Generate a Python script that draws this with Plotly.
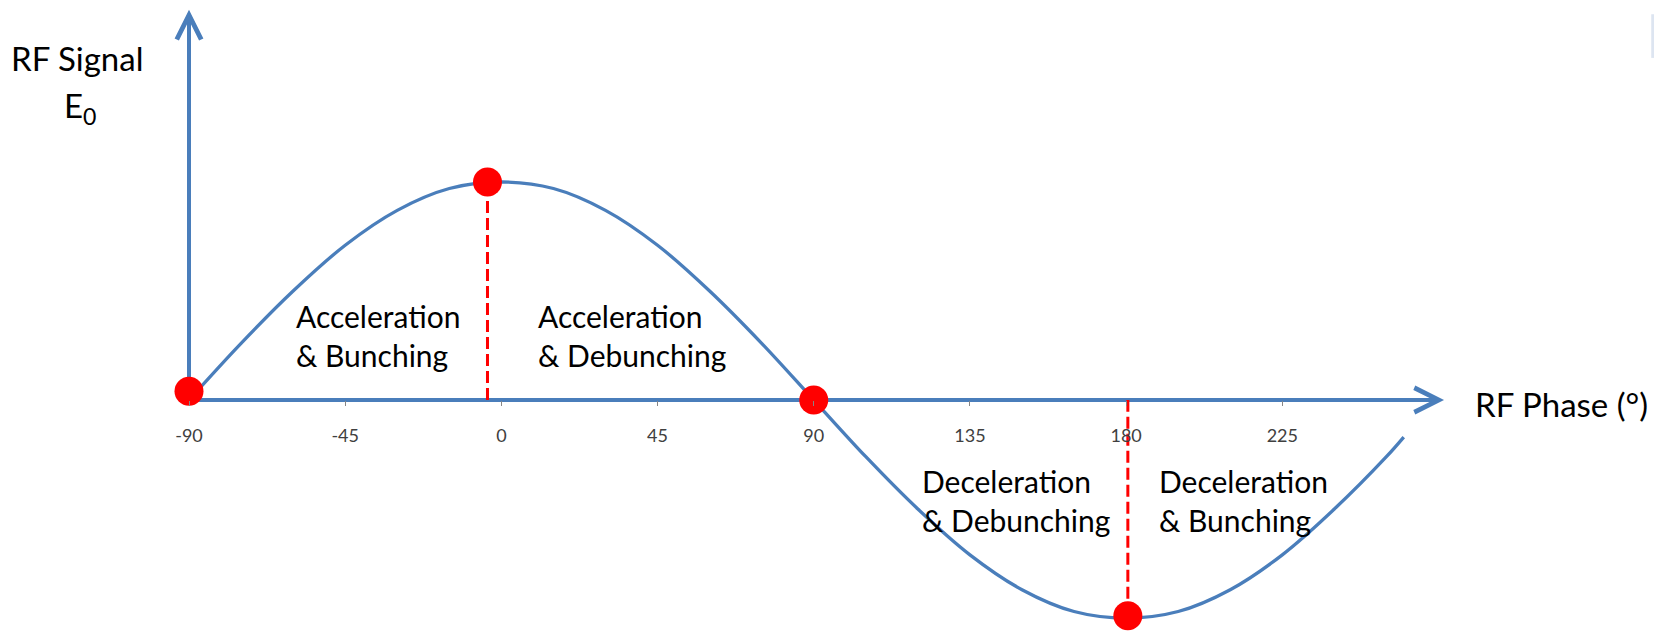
# Import Libraries
import plotly.graph_objects as go


# Sine wave (RF phase in degrees, normalised signal)
phase = [-90, -75, -60, -45, -30, -15, 0, 15, 30, 45, 60, 75, 90, 105, 120, 135,
         150, 165, 180, 195, 210, 225, 240, 255, 260]
signal = [0.0, 0.26, 0.5, 0.71, 0.87, 0.97, 1.0, 0.97, 0.87, 0.71, 0.5, 0.26, 0.0,
          -0.26, -0.5, -0.71, -0.87, -0.97, -1.0, -0.97, -0.87, -0.71, -0.5, -0.26, -0.17]

# Red marker points
dot_phase = [-90, -4, 90, 180.5]
dot_signal = [0.04, 1.0, 0.0, -0.99]

# Dashed separators (phase, top, bottom)
sep_phase = [-4, 180.5]
sep_top = [1.0, 0.0]
sep_bottom = [0.0, -0.99]

# Tick labels on the phase axis
tick_values = [-90, -45, 0, 45, 90, 135, 180, 225]
tick_labels = ['-90', '-45', '0', '45', '90', '135', '180', '225']

# Region labels
region_text = ['Acceleration<br>& Bunching', 'Acceleration<br>& Debunching',
               'Deceleration<br>& Debunching', 'Deceleration<br>& Bunching']
region_x = [-59.8, 10.0, 120.6, 189.0]
region_y = [0.295, 0.295, -0.46, -0.46]

# Axis extents
axis_start = -90
x_axis_end = 271.6
y_axis_end = 1.79

blue = '#4A7EBB'
red = '#FF0000'
font_name = 'Lato'

fig = go.Figure()

# Sine curve
fig.add_trace(go.Scatter(x=phase, y=signal, mode='lines', line_shape='spline',
                         line=dict(color=blue, width=3.3), hoverinfo='skip'))

# Red dots
fig.add_trace(go.Scatter(x=dot_phase, y=dot_signal, mode='markers',
                         marker=dict(color=red, size=29), cliponaxis=False, hoverinfo='skip'))

# Axis lines drawn under the traces
shapes = [
    dict(type='line', xref='x', yref='y', x0=axis_start, y0=0, x1=x_axis_end - 3, y1=0,
         line=dict(color=blue, width=4), layer='below'),
    dict(type='line', xref='x', yref='y', x0=axis_start, y0=0, x1=axis_start, y1=y_axis_end - 0.02,
         line=dict(color=blue, width=4), layer='below'),
]
for p, t, b in zip(sep_phase, sep_top, sep_bottom):
    shapes.append(dict(type='line', xref='x', yref='y', x0=p, y0=b, x1=p, y1=t,
                       line=dict(color=red, width=3, dash='12px,5px'), layer='below'))

# Small logo fragment in the top right corner
shapes.append(dict(type='rect', xref='paper', yref='paper', x0=0.9935, x1=1.0, y0=0.92, y1=0.99,
                   fillcolor='rgba(120,150,200,0.25)', line=dict(width=0), layer='below'))
shapes.append(dict(type='rect', xref='paper', yref='paper', x0=0.996, x1=1.0, y0=0.99, y1=1.0,
                   fillcolor='#1F3B7A', line=dict(width=0), layer='below'))

annotations = []
# Arrow heads at the ends of both axes
annotations.append(dict(x=x_axis_end, y=0, ax=x_axis_end - 10, ay=0, xref='x', yref='y',
                        axref='x', ayref='y', text=' ', font=dict(size=4), showarrow=True,
                        arrowhead=5, arrowsize=1.2, arrowwidth=4, arrowcolor=blue, standoff=0))
annotations.append(dict(x=axis_start, y=y_axis_end, ax=axis_start, ay=y_axis_end - 0.15,
                        xref='x', yref='y', axref='x', ayref='y', text=' ', font=dict(size=4),
                        showarrow=True, arrowhead=5, arrowsize=1.2, arrowwidth=4,
                        arrowcolor=blue, standoff=0))

# Region labels
for txt, x, y in zip(region_text, region_x, region_y):
    annotations.append(dict(x=x, y=y, xref='x', yref='y', text=txt, showarrow=False,
                            xanchor='left', yanchor='middle', align='left',
                            font=dict(family=font_name, size=30, color='black')))

# Axis titles
annotations.append(dict(x=-122.3, y=1.569, xref='x', yref='y', text='RF Signal',
                        showarrow=False, xanchor='center', yanchor='middle',
                        font=dict(family=font_name, size=33, color='black')))
annotations.append(dict(x=-121.4, y=1.34, xref='x', yref='y', text='E<sub>0</sub>',
                        showarrow=False, xanchor='center', yanchor='middle',
                        font=dict(family=font_name, size=33, color='black')))
annotations.append(dict(x=279.9, y=-0.02, xref='x', yref='y', text='RF Phase (°)',
                        showarrow=False, xanchor='left', yanchor='middle',
                        font=dict(family=font_name, size=33, color='black')))

# The page body adds an 8px offset, so the figure is kept 8px smaller than the window
fig.update_layout(
    width=1654, height=624,
    margin=dict(l=0, r=0, t=0, b=0),
    paper_bgcolor='white', plot_bgcolor='white',
    showlegend=False,
    shapes=shapes,
    annotations=annotations,
    xaxis=dict(range=[-142.15, 334.4], anchor='free', position=0.3718,
               tickvals=tick_values, ticktext=tick_labels,
               ticks='outside', ticklen=5, tickwidth=1, tickcolor='#868686',
               ticklabelstandoff=14,
               tickfont=dict(family=font_name, size=18, color='#404040'),
               showgrid=False, zeroline=False, showline=False, fixedrange=True),
    yaxis=dict(range=[-1.064, 1.798], visible=False, showgrid=False, zeroline=False,
               fixedrange=True),
)

fig.write_html("out.html")
